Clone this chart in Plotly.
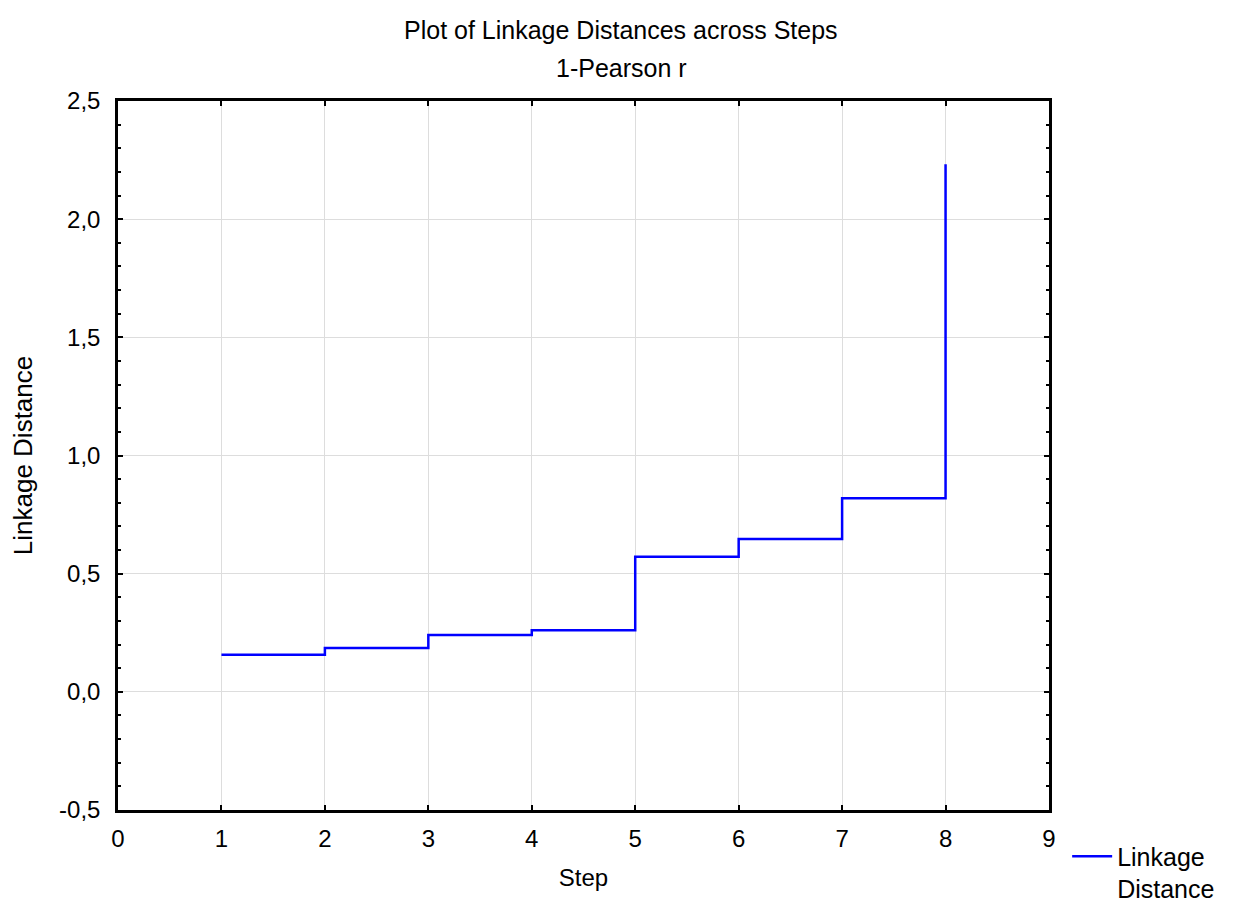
import plotly.graph_objects as go

steps = [1, 2, 3, 4, 5, 6, 7, 8]
linkage_distance = [0.157, 0.185, 0.241, 0.261, 0.572, 0.647, 0.819, 2.232]

x_tick_vals = [0, 1, 2, 3, 4, 5, 6, 7, 8, 9]
y_tick_vals = [-0.5, 0.0, 0.5, 1.0, 1.5, 2.0, 2.5]
y_tick_text = ["-0,5", "0,0", "0,5", "1,0", "1,5", "2,0", "2,5"]

title_text = "Plot of Linkage Distances across Steps"
subtitle_text = "1-Pearson r"
series_name = "Linkage<br>Distance"

FONT = "Liberation Sans, Arial, sans-serif"
FS = 24

W, H = 1229, 896
ML, MR, MT, MB = 110, 188, 93, 94
PH = H - MT - MB

fig = go.Figure()
fig.add_trace(go.Scatter(
    x=steps, y=linkage_distance, mode="lines", line_shape="hv",
    line=dict(color="#0000FF", width=2.5),
    name=series_name,
))

fig.update_layout(
    width=W, height=H,
    margin=dict(l=ML, r=MR, t=MT, b=MB, autoexpand=False),
    paper_bgcolor="white", plot_bgcolor="white",
    separators=", ",
    font=dict(family=FONT, size=FS, color="black"),
    showlegend=True,
    legend=dict(x=1.0195, y=-0.033, xanchor="left", yanchor="top",
                font=dict(size=25), bgcolor="rgba(0,0,0,0)",
                valign="top", itemwidth=40),
)

fig.add_annotation(text=title_text, xref="paper", yref="paper",
                   x=(613 - ML) / (W - ML - MR), y=1 + (MT - 22) / PH, showarrow=False,
                   font=dict(size=25), xanchor="center", yanchor="middle")
fig.add_annotation(text=subtitle_text, xref="paper", yref="paper",
                   x=(613 - ML) / (W - ML - MR), y=1 + (MT - 60) / PH, showarrow=False,
                   font=dict(size=25), xanchor="center", yanchor="middle")

fig.update_xaxes(
    range=[0, 9], tickvals=x_tick_vals,
    showline=True, linecolor="black", linewidth=2.5, mirror="allticks",
    ticks="inside", ticklen=5, tickwidth=2, tickcolor="black",
    ticklabelstandoff=5,
    showgrid=True, gridcolor="#dddddd", gridwidth=1, zeroline=False,
    title=dict(text="Step", standoff=19, font=dict(size=FS)),
    tickfont=dict(size=FS),
)
fig.update_yaxes(
    range=[-0.5, 2.5], tickvals=y_tick_vals, ticktext=y_tick_text,
    showline=True, linecolor="black", linewidth=2.5, mirror="allticks",
    ticks="inside", ticklen=5, tickwidth=2, tickcolor="black",
    ticklabelstandoff=10,
    minor=dict(dtick=0.1, tick0=0, ticks="inside", ticklen=3, tickwidth=2,
               tickcolor="black", showgrid=False),
    showgrid=True, gridcolor="#dddddd", gridwidth=1, zeroline=False,
    title=dict(text="Linkage Distance", standoff=21, font=dict(size=26)),
    tickfont=dict(size=FS),
)

fig.write_html("out.html")
